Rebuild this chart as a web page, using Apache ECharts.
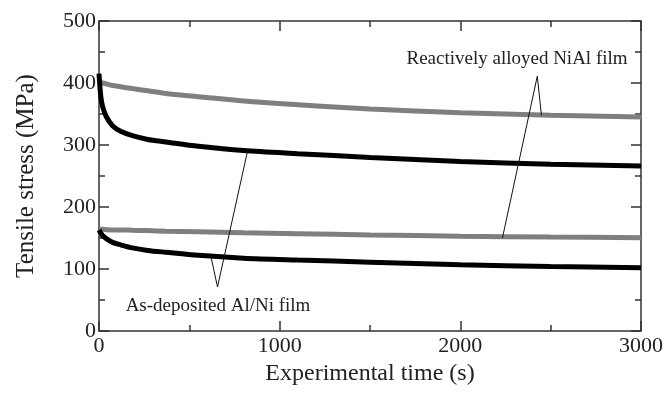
<!DOCTYPE html>
<html>
<head>
<meta charset="utf-8">
<script src="https://cdn.jsdelivr.net/npm/echarts@6/dist/echarts.min.js"></script>
<style>
  html, body { margin: 0; padding: 0; background: #fff; }
  #chart { width: 666px; height: 394px; }
</style>
</head>
<body>
<div id="chart"></div>
<script>
// experimental time (s) sampled along the curves
const times = [0, 10, 20, 40, 75, 120, 185, 270, 370, 550, 800, 1100, 1500, 2000, 2500, 3000];

// tensile stress (MPa)
const nialUpper = [402, 401, 400, 398.5, 396, 394, 391, 387.5, 383, 378, 371, 365, 358, 352, 348, 345];
const alniUpper = [415, 378, 362, 346, 331, 322, 315, 309, 305, 298, 291, 286, 280, 273.5, 269, 266];
const nialLower = [164, 164, 164, 163.5, 163, 163, 162.5, 162, 161, 160, 158.5, 157, 155, 153, 151.5, 150.5];
const alniLower = [163, 158, 154, 149, 143, 139, 134, 130, 127, 122, 117.5, 114.5, 111, 107, 104, 102];

// leader lines of the two labels, in data units [time, stress]
const nialLeader = [[2449, 348], [2426, 411], [2233, 150]];
const alniLeader = [[621, 118], [656, 71], [822, 290]];

const xTicks = [0, 1000, 2000, 3000];
const yTicks = [0, 100, 200, 300, 400, 500];

const serif = '"Liberation Serif", "DejaVu Serif", serif';
const ink = '#222';
const grey = '#7f7f7f';

const pairs = (ys) => times.map((t, i) => [t, ys[i]]);

const axisBase = {
  type: 'value',
  axisLine: { show: true, onZero: false, lineStyle: { color: '#333', width: 1.5 } },
  axisTick: { show: true, inside: true, length: 10, lineStyle: { color: '#333', width: 1.5 } },
  minorTick: { show: true, splitNumber: 2, length: 6, lineStyle: { color: '#333', width: 1.5 } },
  splitLine: { show: false },
};

const xAxis = (pos, labels) => Object.assign({}, axisBase, {
  position: pos,
  min: xTicks[0],
  max: xTicks[xTicks.length - 1],
  interval: 1000,
  axisLabel: { show: labels, color: ink, fontFamily: serif, fontSize: 22, margin: 4, formatter: (v) => String(v) },
});

const yAxis = (pos, labels) => Object.assign({}, axisBase, {
  position: pos,
  min: yTicks[0],
  max: yTicks[yTicks.length - 1],
  interval: 100,
  axisLabel: { show: labels, color: ink, fontFamily: serif, fontSize: 22, margin: 3, formatter: (v) => String(v) },
});

const curve = (ys, color) => ({
  type: 'line',
  data: pairs(ys),
  smooth: 0.3,
  showSymbol: false,
  lineStyle: { color: color, width: 5 },
  xAxisIndex: 0,
  yAxisIndex: 0,
  silent: true,
  z: 2,
});

const leader = (pts) => ({
  type: 'line',
  data: pts,
  showSymbol: false,
  lineStyle: { color: '#111', width: 1 },
  xAxisIndex: 0,
  yAxisIndex: 0,
  silent: true,
  z: 3,
});

const xMain = xAxis('bottom', true);
xMain.name = 'Experimental time (s)';
xMain.nameLocation = 'middle';
xMain.nameGap = 28;
xMain.nameTextStyle = { color: ink, fontFamily: serif, fontSize: 24 };

const yMain = yAxis('left', true);
yMain.name = 'Tensile stress (MPa)';
yMain.nameLocation = 'middle';
yMain.nameGap = 60;
yMain.nameTextStyle = { color: ink, fontFamily: serif, fontSize: 25 };

const option = {
  animation: false,
  grid: { left: 99, right: 23, top: 21, bottom: 63, containLabel: false },
  xAxis: [xMain, xAxis('top', false)],
  yAxis: [yMain, yAxis('right', false)],
  series: [
    curve(nialUpper, grey),
    curve(alniUpper, '#000'),
    curve(nialLower, grey),
    curve(alniLower, '#000'),
    leader(nialLeader),
    leader(alniLeader),
  ],
  graphic: [
    {
      type: 'text', x: 517, y: 59,
      style: { text: 'Reactively alloyed NiAl film', fill: ink, font: '19px ' + serif, align: 'center', verticalAlign: 'middle' },
    },
    {
      type: 'text', x: 218, y: 306,
      style: { text: 'As-deposited Al/Ni film', fill: ink, font: '19px ' + serif, align: 'center', verticalAlign: 'middle' },
    },
  ],
};

const chart = echarts.init(document.getElementById('chart'));
chart.setOption(option);
window.addEventListener('resize', chart.resize);
</script>
</body>
</html>
